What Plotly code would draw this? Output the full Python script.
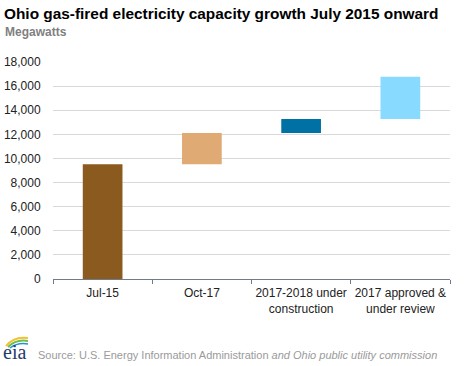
import plotly.graph_objects as go

categories = ["Jul-15", "Oct-17", "2017-2018 under<br>construction", "2017 approved &<br>under review"]
bar_base = [0, 9520, 12110, 13280]
bar_increment = [9520, 2590, 1170, 3500]
bar_colors = ["#8B5A1E", "#E0AA74", "#0071A4", "#88DAFF"]
y_ticks = [0, 2000, 4000, 6000, 8000, 10000, 12000, 14000, 16000, 18000]

W, H = 468, 366
L, R, T, B = 53, 18, 62, 87
pw = W - L - R
ph = H - T - B

def px(x):
    return (x - L) / pw

def py(y):
    return (H - B - y) / ph

fig = go.Figure()
fig.add_trace(go.Bar(
    x=categories, y=bar_increment, base=bar_base,
    marker=dict(color=bar_colors, line=dict(width=0)),
    width=0.4, hoverinfo="skip",
))

fig.update_layout(
    width=W, height=H,
    margin=dict(l=L, r=R, t=T, b=B, pad=0),
    paper_bgcolor="white", plot_bgcolor="white",
    showlegend=False,
    font=dict(family="Liberation Sans, Arial, sans-serif", size=12, color="#222"),
    xaxis=dict(
        type="category", tickson="boundaries", ticks="outside", ticklen=4,
        tickcolor="#6f7b8a", showline=True, linecolor="#6f7b8a", linewidth=1,
        showgrid=False, tickfont=dict(size=12, color="#222"), tickangle=0,
        automargin=False, ticklabelstandoff=3,
    ),
    yaxis=dict(
        range=[0, 18000], tickvals=y_ticks, tickformat=",",
        showgrid=True, gridcolor="#d9d9d9", gridwidth=1,
        zeroline=False, showline=False,
        ticks="outside", ticklen=9, tickcolor="rgba(0,0,0,0)",
        tickfont=dict(size=12, color="#222"), automargin=False,
    ),
    annotations=[
        dict(text="<b>Ohio gas-fired electricity capacity growth July 2015 onward</b>",
             xref="paper", yref="paper", x=px(2), y=py(3), xanchor="left", yanchor="top",
             showarrow=False, font=dict(size=15.4, color="#000")),
        dict(text="<b>Megawatts</b>",
             xref="paper", yref="paper", x=px(3), y=py(23), xanchor="left", yanchor="top",
             showarrow=False, font=dict(size=12, color="#7f7f7f")),
        dict(text="Source: U.S. Energy Information Administration <i>and Ohio public utility commission</i>",
             xref="paper", yref="paper", x=px(36), y=py(355), xanchor="left", yanchor="middle",
             showarrow=False, font=dict(size=11, color="#9a9a9a")),
        dict(text="eia",
             xref="paper", yref="paper", x=px(1), y=py(352), xanchor="left", yanchor="middle",
             showarrow=False, font=dict(size=20, color="#1f3c6e", family="Liberation Serif, serif")),
    ],
    shapes=[
        dict(type="path", xref="paper", yref="paper",
             path=f"M {px(6)},{py(346)} Q {px(14)},{py(336)} {px(28)},{py(338)}",
             line=dict(color="#f2c12e", width=2)),
        dict(type="path", xref="paper", yref="paper",
             path=f"M {px(8)},{py(347)} Q {px(16)},{py(339)} {px(28)},{py(341)}",
             line=dict(color="#6cbf4a", width=2)),
        dict(type="path", xref="paper", yref="paper",
             path=f"M {px(10)},{py(348)} Q {px(18)},{py(342)} {px(28)},{py(344)}",
             line=dict(color="#2a8fd4", width=1.5)),
    ],
)

fig.write_html("out.html", config={"displayModeBar": False},
               post_script="document.body.style.margin='0';document.body.style.overflow='hidden';")
